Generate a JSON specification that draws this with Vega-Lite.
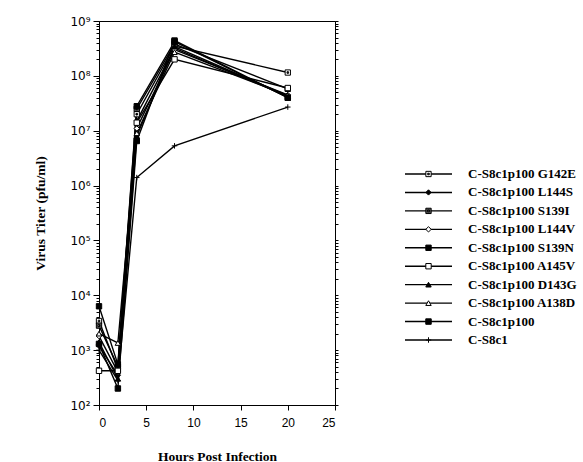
{
  "$schema": "https://vega.github.io/schema/vega-lite/v6.json",
  "background": "white",
  "padding": {"left": 33, "top": 14, "right": 2, "bottom": 2},
  "config": {"view": {"stroke": null}, "font": "Liberation Sans"},
  "datasets": {
    "titers": [
      {"series": "C-S8c1p100 G142E", "hours": 0, "titer": 3400},
      {"series": "C-S8c1p100 G142E", "hours": 2, "titer": 450},
      {"series": "C-S8c1p100 G142E", "hours": 4, "titer": 20000000},
      {"series": "C-S8c1p100 G142E", "hours": 8, "titer": 350000000},
      {"series": "C-S8c1p100 G142E", "hours": 20, "titer": 115000000},
      {"series": "C-S8c1p100 L144S", "hours": 0, "titer": 1200},
      {"series": "C-S8c1p100 L144S", "hours": 2, "titer": 350},
      {"series": "C-S8c1p100 L144S", "hours": 4, "titer": 15000000},
      {"series": "C-S8c1p100 L144S", "hours": 8, "titer": 320000000},
      {"series": "C-S8c1p100 L144S", "hours": 20, "titer": 42000000},
      {"series": "C-S8c1p100 S139I", "hours": 0, "titer": 2800},
      {"series": "C-S8c1p100 S139I", "hours": 2, "titer": 500},
      {"series": "C-S8c1p100 S139I", "hours": 4, "titer": 25000000},
      {"series": "C-S8c1p100 S139I", "hours": 8, "titer": 380000000},
      {"series": "C-S8c1p100 S139I", "hours": 20, "titer": 58000000},
      {"series": "C-S8c1p100 L144V", "hours": 0, "titer": 1800},
      {"series": "C-S8c1p100 L144V", "hours": 2, "titer": 400},
      {"series": "C-S8c1p100 L144V", "hours": 4, "titer": 11000000},
      {"series": "C-S8c1p100 L144V", "hours": 8, "titer": 300000000},
      {"series": "C-S8c1p100 L144V", "hours": 20, "titer": 45000000},
      {"series": "C-S8c1p100 S139N", "hours": 0, "titer": 6300},
      {"series": "C-S8c1p100 S139N", "hours": 2, "titer": 550},
      {"series": "C-S8c1p100 S139N", "hours": 4, "titer": 28000000},
      {"series": "C-S8c1p100 S139N", "hours": 8, "titer": 420000000},
      {"series": "C-S8c1p100 S139N", "hours": 20, "titer": 40000000},
      {"series": "C-S8c1p100 A145V", "hours": 0, "titer": 420},
      {"series": "C-S8c1p100 A145V", "hours": 2, "titer": 420},
      {"series": "C-S8c1p100 A145V", "hours": 4, "titer": 14000000},
      {"series": "C-S8c1p100 A145V", "hours": 8, "titer": 200000000},
      {"series": "C-S8c1p100 A145V", "hours": 20, "titer": 60000000},
      {"series": "C-S8c1p100 D143G", "hours": 0, "titer": 1400},
      {"series": "C-S8c1p100 D143G", "hours": 2, "titer": 300},
      {"series": "C-S8c1p100 D143G", "hours": 4, "titer": 8000000},
      {"series": "C-S8c1p100 D143G", "hours": 8, "titer": 340000000},
      {"series": "C-S8c1p100 D143G", "hours": 20, "titer": 43000000},
      {"series": "C-S8c1p100 A138D", "hours": 0, "titer": 2000},
      {"series": "C-S8c1p100 A138D", "hours": 2, "titer": 1350},
      {"series": "C-S8c1p100 A138D", "hours": 4, "titer": 9000000},
      {"series": "C-S8c1p100 A138D", "hours": 8, "titer": 270000000},
      {"series": "C-S8c1p100 A138D", "hours": 20, "titer": 44000000},
      {"series": "C-S8c1p100", "hours": 0, "titer": 1300},
      {"series": "C-S8c1p100", "hours": 2, "titer": 200},
      {"series": "C-S8c1p100", "hours": 4, "titer": 6500000},
      {"series": "C-S8c1p100", "hours": 8, "titer": 440000000},
      {"series": "C-S8c1p100", "hours": 20, "titer": 40000000},
      {"series": "C-S8c1", "hours": 0, "titer": 1000},
      {"series": "C-S8c1", "hours": 2, "titer": 280},
      {"series": "C-S8c1", "hours": 4, "titer": 1400000},
      {"series": "C-S8c1", "hours": 8, "titer": 5300000},
      {"series": "C-S8c1", "hours": 20, "titer": 27000000}
    ],
    "legend": [
      {"series": "C-S8c1p100 G142E"},
      {"series": "C-S8c1p100 L144S"},
      {"series": "C-S8c1p100 S139I"},
      {"series": "C-S8c1p100 L144V"},
      {"series": "C-S8c1p100 S139N"},
      {"series": "C-S8c1p100 A145V"},
      {"series": "C-S8c1p100 D143G"},
      {"series": "C-S8c1p100 A138D"},
      {"series": "C-S8c1p100"},
      {"series": "C-S8c1"}
    ]
  },
  "spacing": 65,
  "hconcat": [
    {
      "width": 236,
      "height": 384,
      "data": {"name": "titers"},
      "view": {"stroke": "black", "strokeWidth": 1},
      "resolve": {"axis": {"y": "independent"}},
      "layer": [
        {
          "mark": {"type": "line", "color": "black", "strokeWidth": 1.4},
          "encoding": {
            "x": {
              "field": "hours", "type": "quantitative",
              "scale": {"domain": [0, 25], "nice": false},
              "axis": {
                "values": [0, 5, 10, 15, 20, 25],
                "title": "Hours Post Infection",
                "titleFont": "Liberation Serif", "titleFontWeight": "bold", "titleFontSize": 13.5, "titleColor": "black", "titlePadding": 21,
                "labelFont": "Liberation Sans", "labelFontSize": 12, "labelColor": "black", "labelPadding": 7,
                "domainColor": "black", "tickColor": "black", "tickSize": 5, "grid": false
              }
            },
            "y": {
              "field": "titer", "type": "quantitative",
              "scale": {"type": "log", "domain": [100, 1000000000], "nice": false},
              "axis": {
                "values": [1e2,2e2,3e2,4e2,5e2,6e2,7e2,8e2,9e2,1e3,2e3,3e3,4e3,5e3,6e3,7e3,8e3,9e3,1e4,2e4,3e4,4e4,5e4,6e4,7e4,8e4,9e4,1e5,2e5,3e5,4e5,5e5,6e5,7e5,8e5,9e5,1e6,2e6,3e6,4e6,5e6,6e6,7e6,8e6,9e6,1e7,2e7,3e7,4e7,5e7,6e7,7e7,8e7,9e7,1e8,2e8,3e8,4e8,5e8,6e8,7e8,8e8,9e8,1e9],
                "labelExpr": "datum.value == 1e2 ? '10²' : datum.value == 1e3 ? '10³' : datum.value == 1e4 ? '10⁴' : datum.value == 1e5 ? '10⁵' : datum.value == 1e6 ? '10⁶' : datum.value == 1e7 ? '10⁷' : datum.value == 1e8 ? '10⁸' : datum.value == 1e9 ? '10⁹' : ''",
                "labelOverlap": false,
                "labelFont": "DejaVu Sans", "labelFontSize": 12, "labelColor": "black", "labelPadding": 3,
                "tickSize": {"condition": {"test": "datum.value == 1e2 || datum.value == 1e3 || datum.value == 1e4 || datum.value == 1e5 || datum.value == 1e6 || datum.value == 1e7 || datum.value == 1e8 || datum.value == 1e9", "value": 6}, "value": 3},
                "title": "Virus Titer (pfu/ml)",
                "titleFont": "Liberation Serif", "titleFontWeight": "bold", "titleFontSize": 13.5, "titleColor": "black", "titlePadding": 22,
                "domainColor": "black", "tickColor": "black", "tickWidth": 1, "grid": false
              }
            },
            "detail": {"field": "series", "type": "nominal"},
            "order": {"field": "hours", "type": "quantitative"}
          }
        },
        {
          "mark": {"type": "point", "stroke": "black", "strokeWidth": 1, "opacity": 1, "fillOpacity": 1},
          "encoding": {
            "x": {"field": "hours", "type": "quantitative"},
            "y": {
              "field": "titer", "type": "quantitative",
              "axis": {
                "orient": "right",
                "values": [1e2,2e2,3e2,4e2,5e2,6e2,7e2,8e2,9e2,1e3,2e3,3e3,4e3,5e3,6e3,7e3,8e3,9e3,1e4,2e4,3e4,4e4,5e4,6e4,7e4,8e4,9e4,1e5,2e5,3e5,4e5,5e5,6e5,7e5,8e5,9e5,1e6,2e6,3e6,4e6,5e6,6e6,7e6,8e6,9e6,1e7,2e7,3e7,4e7,5e7,6e7,7e7,8e7,9e7,1e8,2e8,3e8,4e8,5e8,6e8,7e8,8e8,9e8,1e9],
                "labels": false, "title": null, "tickSize": 3,
                "domainColor": "black", "tickColor": "black", "grid": false
              }
            },
            "shape": {
              "field": "series", "type": "nominal", "legend": null,
              "scale": {
                "domain": ["C-S8c1p100 G142E","C-S8c1p100 L144S","C-S8c1p100 S139I","C-S8c1p100 L144V","C-S8c1p100 S139N","C-S8c1p100 A145V","C-S8c1p100 D143G","C-S8c1p100 A138D","C-S8c1p100","C-S8c1"],
                "range": ["M-1,-1H1V1H-1Z M-0.3,-0.3V0.3H0.3V-0.3Z","diamond","M-1,-1H1V1H-1Z M-0.35,-0.35V0.35H0.35V-0.35Z","diamond","square","square","triangle-up","triangle-up","square","M-1,0H1M0,-1V1"]
              }
            },
            "fill": {
              "field": "series", "type": "nominal", "legend": null,
              "scale": {
                "domain": ["C-S8c1p100 G142E","C-S8c1p100 L144S","C-S8c1p100 S139I","C-S8c1p100 L144V","C-S8c1p100 S139N","C-S8c1p100 A145V","C-S8c1p100 D143G","C-S8c1p100 A138D","C-S8c1p100","C-S8c1"],
                "range": ["white","black","#555555","white","black","white","black","white","black","white"]
              }
            },
            "size": {
              "field": "series", "type": "nominal", "legend": null,
              "scale": {
                "domain": ["C-S8c1p100 G142E","C-S8c1p100 L144S","C-S8c1p100 S139I","C-S8c1p100 L144V","C-S8c1p100 S139N","C-S8c1p100 A145V","C-S8c1p100 D143G","C-S8c1p100 A138D","C-S8c1p100","C-S8c1"],
                "range": [28, 30, 28, 30, 28, 28, 32, 32, 48, 40]
              }
            }
          }
        }
      ]
    },
    {
      "width": 47,
      "height": 384,
      "data": {"name": "legend"},
      "layer": [
        {
          "mark": {"type": "rule", "color": "black", "strokeWidth": 1.4},
          "encoding": {
            "x": {"datum": 0, "type": "quantitative", "scale": {"domain": [0, 1]}, "axis": null},
            "x2": {"datum": 1},
            "y": {"field": "series", "type": "nominal", "sort": null, "axis": null,
                  "scale": {"type": "point", "padding": 0, "range": [153, 319]}}
          }
        },
        {
          "mark": {"type": "point", "stroke": "black", "strokeWidth": 1, "opacity": 1, "fillOpacity": 1},
          "encoding": {
            "x": {"datum": 0.5, "type": "quantitative"},
            "y": {"field": "series", "type": "nominal", "sort": null},
            "shape": {"field": "series", "type": "nominal", "legend": null},
            "fill": {"field": "series", "type": "nominal", "legend": null},
            "size": {"field": "series", "type": "nominal", "legend": null}
          }
        },
        {
          "mark": {"type": "text", "align": "left", "baseline": "middle", "dx": 16, "font": "Liberation Serif", "fontWeight": "bold", "fontSize": 13, "color": "black"},
          "encoding": {
            "x": {"datum": 1, "type": "quantitative"},
            "y": {"field": "series", "type": "nominal", "sort": null},
            "text": {"field": "series", "type": "nominal"}
          }
        }
      ]
    }
  ]
}
